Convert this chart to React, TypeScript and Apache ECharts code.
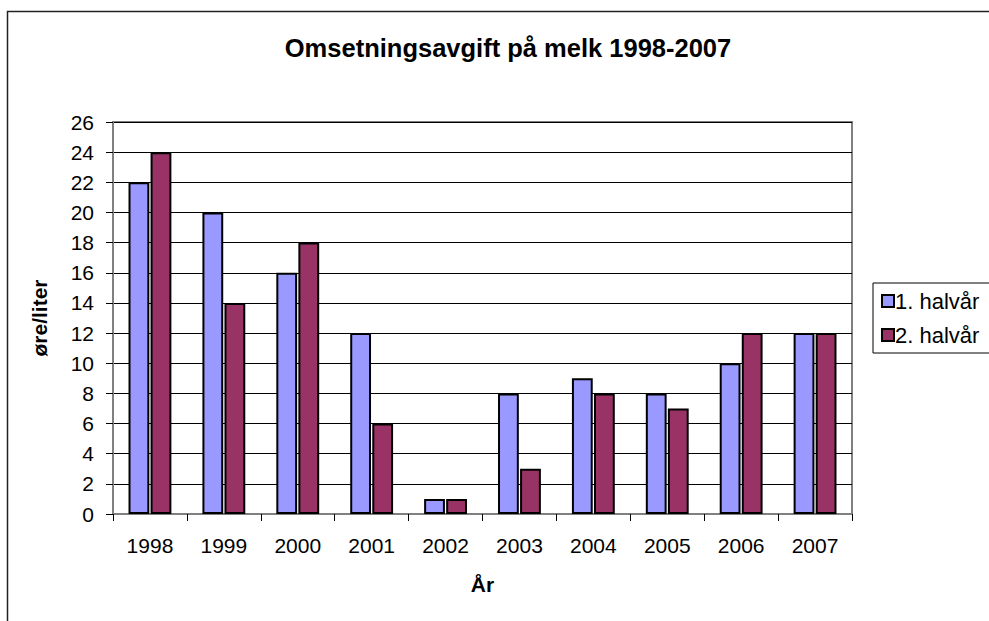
import React, { useEffect, useRef } from "react";
import * as echarts from "echarts";

const categories = ["1998", "1999", "2000", "2001", "2002", "2003", "2004", "2005", "2006", "2007"];
const firstHalf = [22, 20, 16, 12, 1, 8, 9, 8, 10, 12];
const secondHalf = [24, 14, 18, 6, 1, 3, 8, 7, 12, 12];
const seriesNames = ["1. halvår", "2. halvår"];
const titleText = "Omsetningsavgift på melk 1998-2007";
const yName = "øre/liter";
const xName = "År";

const FONT = "'Liberation Sans', Arial, sans-serif";

export default function App() {
  const ref = useRef<HTMLDivElement>(null);
  useEffect(() => {
    if (!ref.current) return;
    const chart = echarts.init(ref.current, undefined, { renderer: "svg" });
    chart.setOption({
      animation: false,
      backgroundColor: "#ffffff",
      textStyle: { fontFamily: FONT, color: "#000" },
      title: {
        text: titleText,
        left: 503,
        textAlign: "center",
        top: 30,
        textStyle: { fontFamily: FONT, fontSize: 25.5, fontWeight: "bold", color: "#000" },
      },
      graphic: [
        {
          type: "rect",
          shape: { x: 7.5, y: 11.5, width: 1100, height: 800 },
          style: { fill: "none", stroke: "#222", lineWidth: 1.5 },
          silent: true,
          z: 100,
        },
      ],
      legend: {
        orient: "vertical",
        left: 873,
        top: 283,
        padding: [7, 40, 7, 8],
        itemGap: 12,
        itemWidth: 12,
        itemHeight: 12,
        icon: "rect",
        borderColor: "#000",
        borderWidth: 1,
        itemStyle: { borderColor: "#000", borderWidth: 2 },
        textStyle: { fontFamily: FONT, fontSize: 22, color: "#000", padding: [0, 0, 0, -4] },
        data: seriesNames,
      },
      grid: {
        left: 113,
        top: 122,
        right: 137,
        bottom: 107,
        show: true,
        borderColor: "#808080",
        borderWidth: 2,
        backgroundColor: "#fff",
      },
      xAxis: {
        type: "category",
        data: categories,
        name: xName,
        nameLocation: "middle",
        nameGap: 60,
        nameTextStyle: { fontFamily: FONT, fontSize: 21, fontWeight: "bold", color: "#000" },
        axisLine: { lineStyle: { color: "#808080", width: 2 } },
        axisTick: { show: true, length: 7, alignWithLabel: false, lineStyle: { color: "#000", width: 1 } },
        axisLabel: { margin: 21, fontFamily: FONT, fontSize: 21, color: "#000" },
      },
      yAxis: {
        type: "value",
        min: 0,
        max: 26,
        interval: 2,
        name: yName,
        nameLocation: "middle",
        nameGap: 63,
        nameTextStyle: { fontFamily: FONT, fontSize: 21, fontWeight: "bold", color: "#000" },
        axisLine: { show: true, lineStyle: { color: "#808080", width: 2 } },
        axisTick: { show: true, length: 7, lineStyle: { color: "#000", width: 1 } },
        axisLabel: { margin: 19, fontFamily: FONT, fontSize: 21, color: "#000" },
        splitLine: { show: true, lineStyle: { color: "#000", width: 1 } },
      },
      series: [
        {
          name: seriesNames[0],
          type: "bar",
          data: firstHalf,
          barGap: "6%",
          barCategoryGap: "42%",
          itemStyle: { color: "#9999FF", borderColor: "#000", borderWidth: 2 },
        },
        {
          name: seriesNames[1],
          type: "bar",
          data: secondHalf,
          itemStyle: { color: "#993366", borderColor: "#000", borderWidth: 2 },
        },
      ],
    });
    return () => chart.dispose();
  }, []);
  return (
    <div
      ref={ref}
      style={{ position: "absolute", left: 0, top: 0, width: 989, height: 621 }}
    />
  );
}
